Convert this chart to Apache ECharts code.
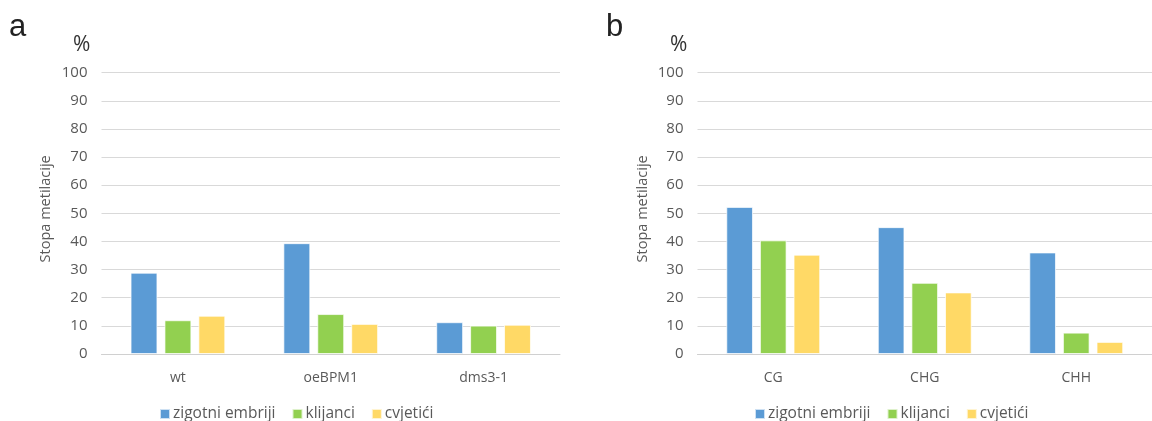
<!DOCTYPE html>
<html>
<head>
<meta charset="utf-8">
<script src="https://cdn.jsdelivr.net/npm/echarts@6/dist/echarts.min.js"></script>
<style>
html,body{margin:0;padding:0;background:#fff;}
#c{width:1152px;height:421px;}
</style>
</head>
<body>
<div id="c"></div>
<script>
const categoriesA = ['wt', 'oeBPM1', 'dms3-1'];
const categoriesB = ['CG', 'CHG', 'CHH'];
const seriesNames = ['zigotni embriji', 'klijanci', 'cvjetići'];
const zigotniA = [28.9, 39.4, 11.3];
const klijanciA = [12.0, 14.2, 10.1];
const cvjeticiA = [13.6, 10.7, 10.4];
const zigotniB = [52.3, 45.1, 36.1];
const klijanciB = [40.4, 25.3, 7.6];
const cvjeticiB = [35.3, 21.9, 4.3];
const yTicks = [0, 10, 20, 30, 40, 50, 60, 70, 80, 90, 100];
const yAxisTitle = 'Stopa metilacije';
const unitLabel = '%';
const panelLabels = ['a', 'b'];

const colors = ['#5B9BD5', '#92D050', '#FFD966'];
const FONT = '"Open Sans", sans-serif';
const chart = echarts.init(document.getElementById('c'), null, {renderer: 'canvas'});

function yAx(gi, gap) {
  return {
    gridIndex: gi, type: 'value', min: yTicks[0], max: yTicks[yTicks.length - 1], interval: yTicks[1] - yTicks[0],
    name: yAxisTitle, nameLocation: 'middle', nameGap: gap, nameRotate: 90,
    nameTextStyle: {color: '#595959', fontSize: 14.5, fontFamily: FONT, padding: [0, 0, 0, 9]},
    axisLine: {show: false}, axisTick: {show: false},
    axisLabel: {color: '#595959', fontSize: 15, fontFamily: FONT, margin: 14},
    splitLine: {lineStyle: {color: '#D9D9D9', width: 1}}
  };
}
function xAx(gi, cats) {
  return {
    gridIndex: gi, type: 'category', data: cats,
    axisLine: {lineStyle: {color: '#D0D0D0', width: 1}}, axisTick: {show: false},
    axisLabel: {color: '#595959', fontSize: 14, fontFamily: FONT, margin: 17}
  };
}
function bar(name, data, gi, ci) {
  return {
    name: name, type: 'bar', xAxisIndex: gi, yAxisIndex: gi, data: data,
    barGap: '26%', barCategoryGap: '38%',
    itemStyle: {color: colors[ci], borderColor: 'rgba(255,255,255,0.7)', borderWidth: 1},
    emphasis: {disabled: true}
  };
}
const titleStyle = {fontSize: 31, fontWeight: 'normal', color: '#222', fontFamily: '"Liberation Sans", Arial, sans-serif'};
const unitStyle = {fontSize: 21, fontWeight: 'normal', color: '#333', fontFamily: FONT};

chart.setOption({
  animation: false,
  color: colors,
  title: [
    {text: panelLabels[0], left: 4, top: 7, textStyle: titleStyle},
    {text: panelLabels[1], left: 601, top: 7, textStyle: titleStyle},
    {text: unitLabel, left: 68, top: 29.5, textStyle: unitStyle},
    {text: unitLabel, left: 665, top: 29.5, textStyle: unitStyle}
  ],
  legend: [
    {data: seriesNames, left: 154, top: 401, itemWidth: 10, itemHeight: 10, itemGap: 16, icon: 'rect',
     textStyle: {color: '#595959', fontSize: 15.5, fontFamily: FONT, padding: [0, 0, 0, -2]}},
    {data: seriesNames, left: 749, top: 401, itemWidth: 10, itemHeight: 10, itemGap: 16, icon: 'rect',
     textStyle: {color: '#595959', fontSize: 15.5, fontFamily: FONT, padding: [0, 0, 0, -2]}}
  ],
  grid: [
    {left: 101.5, top: 72.7, width: 458.5, height: 281.3},
    {left: 697.5, top: 72.7, width: 459, height: 281.3}
  ],
  xAxis: [xAx(0, categoriesA), xAx(1, categoriesB)],
  yAxis: [yAx(0, 48.5), yAx(1, 47.5)],
  series: [
    bar(seriesNames[0], zigotniA, 0, 0),
    bar(seriesNames[1], klijanciA, 0, 1),
    bar(seriesNames[2], cvjeticiA, 0, 2),
    bar(seriesNames[0], zigotniB, 1, 0),
    bar(seriesNames[1], klijanciB, 1, 1),
    bar(seriesNames[2], cvjeticiB, 1, 2)
  ]
});
</script>
</body>
</html>
